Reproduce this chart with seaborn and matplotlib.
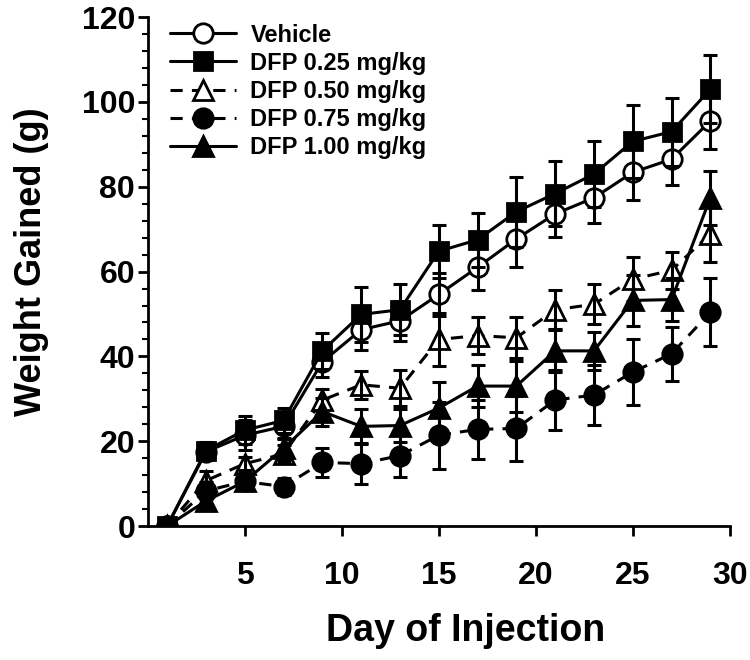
import numpy as np
import pandas as pd
import seaborn as sns
import matplotlib.pyplot as plt
from matplotlib.ticker import MultipleLocator

sns.set_theme(style='ticks')
plt.rcParams['font.family'] = ['Liberation Sans', 'DejaVu Sans']
plt.rcParams['font.weight'] = 'bold'
plt.rcParams['text.color'] = 'black'
plt.rcParams['xtick.color'] = 'black'
plt.rcParams['ytick.color'] = 'black'
plt.rcParams['axes.labelcolor'] = 'black'

days = [1, 3, 5, 7, 9, 11, 13, 15, 17, 19, 21, 23, 25, 27, 29]

vehicle = [0, 17.5, 21.4, 23.5, 38.7, 46.3, 48.4, 54.6, 61.0, 67.7, 73.6, 77.4, 83.4, 86.5, 95.5]
vehicle_sem = [0.5, 2.0, 3.5, 3.0, 3.5, 4.7, 4.7, 5.0, 5.3, 6.7, 5.4, 6.0, 6.4, 6.0, 6.7]

dfp025 = [0, 17.8, 22.6, 24.9, 41.3, 49.9, 51.0, 64.8, 67.5, 74.1, 78.4, 83.0, 90.7, 93.0, 103.0]
dfp025_sem = [0.5, 2.0, 3.3, 3.0, 4.3, 6.4, 6.0, 6.2, 6.4, 8.3, 7.6, 7.7, 8.6, 8.0, 8.0]

dfp050 = [0, 10.7, 14.7, 17.0, 29.7, 33.3, 32.5, 44.0, 44.9, 44.4, 51.0, 52.3, 58.2, 60.3, 68.9]
dfp050_sem = [0.5, 2.3, 1.5, 2.0, 2.6, 3.3, 4.3, 6.2, 4.3, 4.8, 4.6, 4.7, 5.2, 4.3, 6.7]

dfp075 = [0, 8.3, 10.5, 9.3, 15.0, 14.7, 16.6, 21.4, 22.8, 23.0, 29.7, 30.9, 36.3, 40.6, 50.4]
dfp075_sem = [0.5, 2.0, 2.0, 2.0, 3.5, 4.7, 5.0, 7.9, 7.0, 7.6, 7.0, 7.0, 7.8, 6.4, 8.0]

dfp100 = [0, 5.9, 10.5, 18.3, 27.0, 23.5, 23.7, 27.8, 33.0, 33.0, 41.3, 41.3, 53.2, 53.4, 77.4]
dfp100_sem = [0.5, 2.0, 2.0, 2.5, 3.3, 4.0, 4.0, 6.2, 5.0, 6.0, 5.0, 4.5, 6.0, 5.0, 6.4]

groups = ['Vehicle', 'DFP 0.25 mg/kg', 'DFP 0.50 mg/kg', 'DFP 0.75 mg/kg', 'DFP 1.00 mg/kg']
means = [vehicle, dfp025, dfp050, dfp075, dfp100]
sems = [vehicle_sem, dfp025_sem, dfp050_sem, dfp075_sem, dfp100_sem]

# marker, fill, line style, marker size for each group
styles = {
    'Vehicle': ('o', 'white', '-', 14),
    'DFP 0.25 mg/kg': ('s', 'black', '-', 12.5),
    'DFP 0.50 mg/kg': ('^', 'white', (0, (4, 3)), 14),
    'DFP 0.75 mg/kg': ('o', 'black', (0, (4, 3)), 14),
    'DFP 1.00 mg/kg': ('^', 'black', '-', 14),
}

fig = plt.figure(figsize=(7.5, 6.6), dpi=100)
ax = fig.add_axes([0.197, 0.203, 0.776, 0.771])

for g, m, s in zip(groups, means, sems):
    marker, face, ls, ms = styles[g]
    df = pd.DataFrame({'day': days, 'weight': m})
    sns.lineplot(data=df, x='day', y='weight', ax=ax, color='black', lw=2.2,
                 linestyle=ls, marker=marker, markersize=ms, markerfacecolor=face,
                 markeredgecolor='black', markeredgewidth=2, label=g, zorder=2)
    ax.errorbar(days, m, yerr=s, fmt='none', ecolor='black', elinewidth=2.2,
                capsize=5, capthick=2.2, zorder=3)

ax.set_xlim(0, 30)
ax.set_ylim(0, 120)
ax.set_xticks([5, 10, 15, 20, 25, 30])
ax.set_yticks(range(0, 121, 20))
ax.yaxis.set_minor_locator(MultipleLocator(4))
ax.tick_params(axis='both', which='major', labelsize=23, width=2, length=7,
               direction='out', colors='black')
ax.tick_params(axis='y', which='minor', width=1.5, length=4, colors='black')
ax.tick_params(axis='x', pad=18)
ax.tick_params(axis='y', pad=2)
for lab in ax.get_xticklabels() + ax.get_yticklabels():
    lab.set_fontweight('bold')

for sp in ['top', 'right']:
    ax.spines[sp].set_visible(False)
for sp in ['left', 'bottom']:
    ax.spines[sp].set_linewidth(2)
    ax.spines[sp].set_color('black')

ax.set_xlabel('Day of Injection', fontsize=27, fontweight='bold', color='black')
ax.set_ylabel('Weight Gained (g)', fontsize=26, fontweight='bold', color='black')
ax.xaxis.set_label_coords(0.546, -0.17)
ax.yaxis.set_label_coords(-0.17, 0.52)

leg = ax.legend(loc='upper left', bbox_to_anchor=(0.01, 1.02), frameon=False,
                handlelength=2.8, handletextpad=0.6, labelspacing=0.22,
                borderpad=0.2, prop={'weight': 'bold', 'size': 17})
for t in leg.get_texts():
    t.set_color('black')

fig.savefig('out.png', dpi=100)
